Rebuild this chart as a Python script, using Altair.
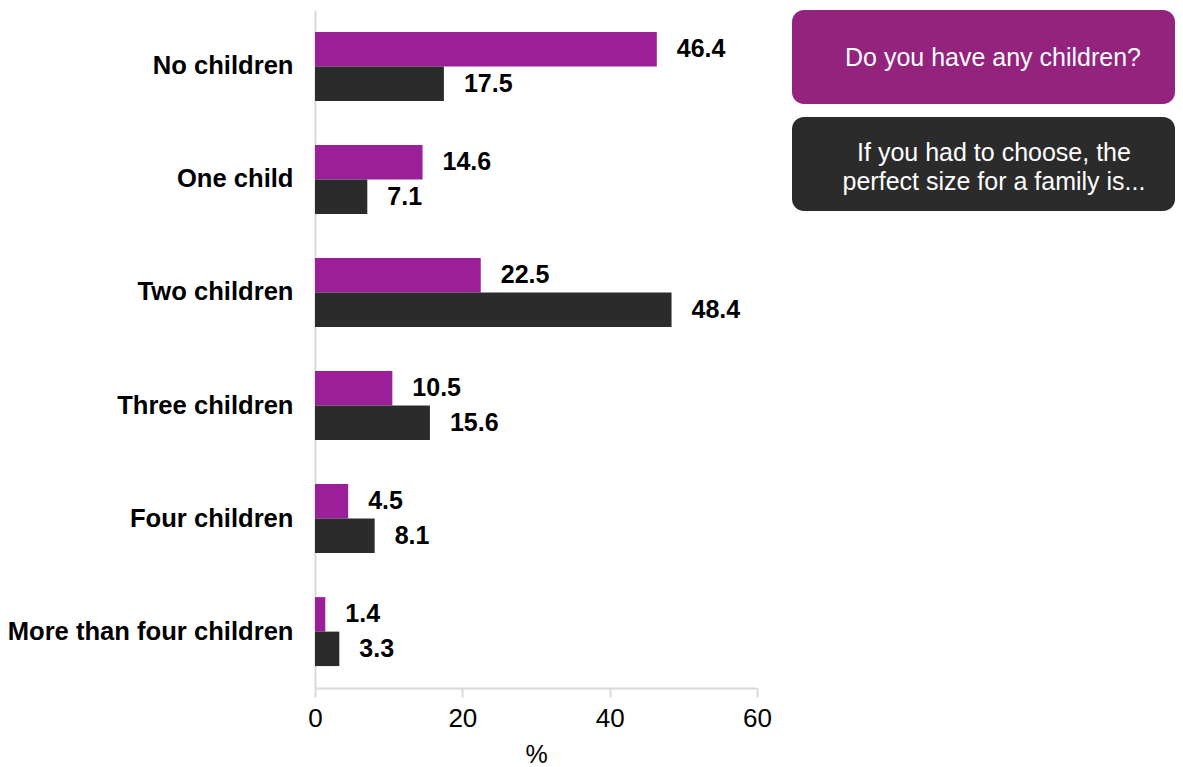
import altair as alt
import pandas as pd

categories = ["No children", "One child", "Two children", "Three children",
              "Four children", "More than four children"]
series = ["Do you have any children?",
          "If you had to choose, the perfect size for a family is..."]
have_children = [46.4, 14.6, 22.5, 10.5, 4.5, 1.4]
perfect_size = [17.5, 7.1, 48.4, 15.6, 8.1, 3.3]
x_ticks = [0, 20, 40, 60]
legend_line_1 = ["Do you have any children?"]
legend_line_2 = ["If you had to choose, the", "perfect size for a family is..."]

PURPLE = "#9b1f99"
PURPLE_BOX = "#93237d"
DARK = "#2b2b2b"
FONT = "Liberation Sans"

rows = []
for c, a, b in zip(categories, have_children, perfect_size):
    rows.append({"cat": c, "series": series[0], "value": a})
    rows.append({"cat": c, "series": series[1], "value": b})
df = pd.DataFrame(rows)

y_enc = alt.Y("cat:N", sort=categories,
              scale=alt.Scale(paddingInner=0.39, paddingOuter=0.194),
              axis=alt.Axis(title=None, ticks=False, labelFontSize=25.6,
                            labelFontWeight="bold", labelColor="black",
                            labelPadding=22, labelLimit=0,
                            domainColor="#d9d9d9",
                            domainWidth=2, labelFont=FONT))
yoff = alt.YOffset("series:N", sort=series)

base = alt.Chart(df)
bars = base.mark_bar().encode(
    x=alt.X("value:Q", scale=alt.Scale(domain=[0, 60], nice=False),
            axis=alt.Axis(values=x_ticks, title="%", grid=False,
                          labelFontSize=26, labelColor="black", labelFont=FONT,
                          labelFlush=False,
                          titleFontSize=25, titleFontWeight="normal",
                          titleColor="black", titleFont=FONT, titlePadding=11,
                          domainColor="#d9d9d9", domainWidth=2,
                          tickColor="#d9d9d9", tickWidth=2, tickSize=9,
                          labelPadding=8)),
    y=y_enc,
    yOffset=yoff,
    color=alt.Color("series:N", sort=series,
                    scale=alt.Scale(domain=series, range=[PURPLE, DARK]),
                    legend=None),
)
labels = base.mark_text(align="left", baseline="middle", dx=20,
                        fontSize=25, fontWeight="bold", font=FONT,
                        color="black").encode(
    x="value:Q", y=alt.Y("cat:N", sort=categories), yOffset=yoff,
    text=alt.Text("value:Q", format=".1f"))

one = pd.DataFrame({"k": [0]})
box1 = alt.Chart(one).mark_rect(cornerRadius=12, color=PURPLE_BOX).encode(
    x=alt.value(477), x2=alt.value(860), y=alt.value(0), y2=alt.value(94))
box2 = alt.Chart(one).mark_rect(cornerRadius=12, color=DARK).encode(
    x=alt.value(477), x2=alt.value(860), y=alt.value(107), y2=alt.value(201))
txt1 = alt.Chart(one).mark_text(text=legend_line_1[0], align="center",
                                baseline="middle", fontSize=25, font=FONT,
                                color="white").encode(
    x=alt.value(678), y=alt.value(48))
txt2 = alt.Chart(one).mark_text(text=legend_line_2, align="center",
                                baseline="middle", fontSize=25, font=FONT,
                                lineHeight=29, color="white").encode(
    x=alt.value(679), y=alt.value(143))

chart = alt.layer(bars, labels, box1, box2, txt1, txt2).properties(
    width=442, height=678,
    autosize=alt.AutoSizeParams(type="none"),
    padding={"left": 307, "top": 2, "right": 418, "bottom": 79},
).configure_view(stroke=None)

chart.save("out.html", embed_options={"renderer": "svg", "actions": False})
